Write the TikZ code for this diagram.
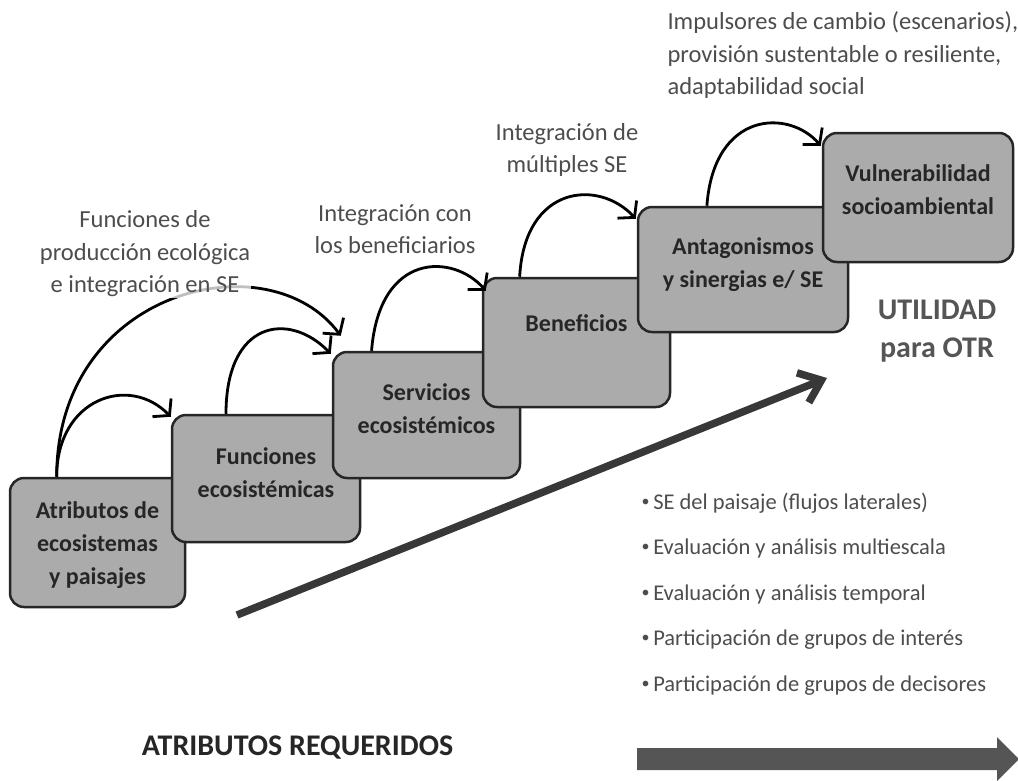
\documentclass[tikz,border=0pt]{standalone}
\usepackage{fontspec}
\setmainfont{Carlito}
\usetikzlibrary{arrows.meta, calc, positioning}
\definecolor{boxgray}{HTML}{ABABAB}
\definecolor{notegray}{HTML}{4D4D4D}
\definecolor{bargray}{HTML}{555555}
\newcommand{\bul}{\raisebox{3pt}{\fontsize{16}{16}\selectfont •}\,}

\begin{document}
\begin{tikzpicture}[x=1pt, y=-1pt,
    stepbox/.style={draw=black!85, fill=boxgray, line width=2.5pt, rounded corners=14pt, inner sep=0pt},
    steptext/.style={align=center, font=\fontsize{24}{33}\selectfont\bfseries, text=black!85},
    note/.style={align=center, font=\fontsize{24.5}{32.5}\selectfont, text=notegray},
    flow/.style={line width=2.8pt, -{Straight Barb[length=11pt, width=26pt]}}]
    \useasboundingbox (0,0) rectangle (1018,780);

    % steps of the staircase
    \node[stepbox, minimum width=175pt, minimum height=129pt] (b1) at (97.5,542.5) {};
    \node[steptext] (t1) at ($(b1)+(0,2.5)$) {Atributos de\\ecosistemas\\y paisajes};
    \node[stepbox, minimum width=188pt, minimum height=127pt] (b2) at (266,478.5) {};
    \node[steptext] (t2) at ($(b2)+(0,-5.5)$) {Funciones\\ecosistémicas};
    \node[stepbox, minimum width=187pt, minimum height=126pt] (b3) at (426.5,415) {};
    \node[steptext] (t3) at ($(b3)+(0,-6)$) {Servicios\\ecosistémicos};
    \node[stepbox, minimum width=187pt, minimum height=129pt] (b4) at (576.5,342.5) {};
    \node[steptext] (t4) at ($(b4)+(0,-19.5)$) {Beneficios};
    \node[stepbox, minimum width=210pt, minimum height=125pt] (b5) at (743,269.5) {};
    \node[steptext] (t5) at ($(b5)+(0,-4.5)$) {Antagonismos\\y sinergias e/ SE};
    \node[stepbox, minimum width=190pt, minimum height=129pt] (b6) at (918,197.5) {};
    \node[steptext] (t6) at ($(b6)+(0,-7.5)$) {Vulnerabilidad\\socioambiental};

    % arcs between steps
    \coordinate (s1) at ($(b1.north west)!0.27!(b1.north east)$);
    \draw[flow] (s1) .. controls ($(s1)+(0,-78)$) and ($(b2.north west)+(-42,-40)$) .. ($(b2.north west)+(0,3)$);
    \draw[flow] (s1) .. controls ($(s1)+(0,-188)$) and ($(b3.north west)+(-63,-112)$) .. ($(b3.north west)+(9,-15)$);
    \coordinate (s2) at ($(b2.north west)!0.29!(b2.north east)$);
    \draw[flow] (s2) .. controls ($(s2)+(0,-93)$) and ($(b3.north west)+(-43,-40)$) .. ($(b3.north west)+(-1,3)$);
    \coordinate (s3) at ($(b3.north west)!0.21!(b3.north east)$);
    \draw[flow] (s3) .. controls ($(s3)+(8,-100)$) and ($(b4.north west)+(-28,-23)$) .. ($(b4.north west)+(4,14)$);
    \coordinate (s4) at ($(b4.north west)!0.2!(b4.north east)$);
    \draw[flow] (s4) .. controls ($(s4)+(5,-92)$) and ($(b5.north west)+(-38,-27)$) .. ($(b5.north west)+(-1,13)$);
    \coordinate (s5) at ($(b5.north west)!0.33!(b5.north east)$);
    \draw[flow] (s5) .. controls ($(s5)+(7,-95)$) and ($(b6.north west)+(-33,-23)$) .. ($(b6.north west)+(-1,14)$);

    % labels over the arcs
    \node[note, fill=white, fill opacity=0.75, text opacity=1, inner sep=1pt] (l1) at (145,254) {Funciones de\\producción ecológica\\e integración en SE};
    \node[note] (l2) at (395,229) {Integración con\\los beneficiarios};
    \node[note] (l3) at (567,150) {Integración de\\múltiples SE};
    \node[note, align=left, anchor=west] (l4) at (664,55.5) {Impulsores de cambio (escenarios),\\provisión sustentable o resiliente,\\adaptabilidad social};

    % utility
    \node[align=center, font=\fontsize{30}{38}\selectfont\bfseries, text=bargray] (util) at (937,331) {UTILIDAD\\para OTR};
    \coordinate (d0) at (237,615);
    \coordinate (d1) at (827,378);
    \draw[line width=7.5pt, draw=black!78, -{Straight Barb[length=20pt, width=32pt]}] (d0) -- (d1);

    \node[align=left, anchor=west, font=\fontsize{22.5}{45.5}\selectfont, text=notegray] (req) at (638,594)
        {\bul SE del paisaje (flujos laterales)\\
         \bul Evaluación y análisis multiescala\\
         \bul Evaluación y análisis temporal\\
         \bul Participación de grupos de interés\\
         \bul Participación de grupos de decisores};

    % bottom
    \node[font=\fontsize{30}{36}\selectfont\bfseries, text=black!85] (attr) at (297.5,748) {ATRIBUTOS REQUERIDOS};
    \fill[bargray] (637,748) -- (997,748) -- (997,737) -- (1019,759) -- (997,781) -- (997,770) -- (637,770) -- cycle;
\end{tikzpicture}
\end{document}
